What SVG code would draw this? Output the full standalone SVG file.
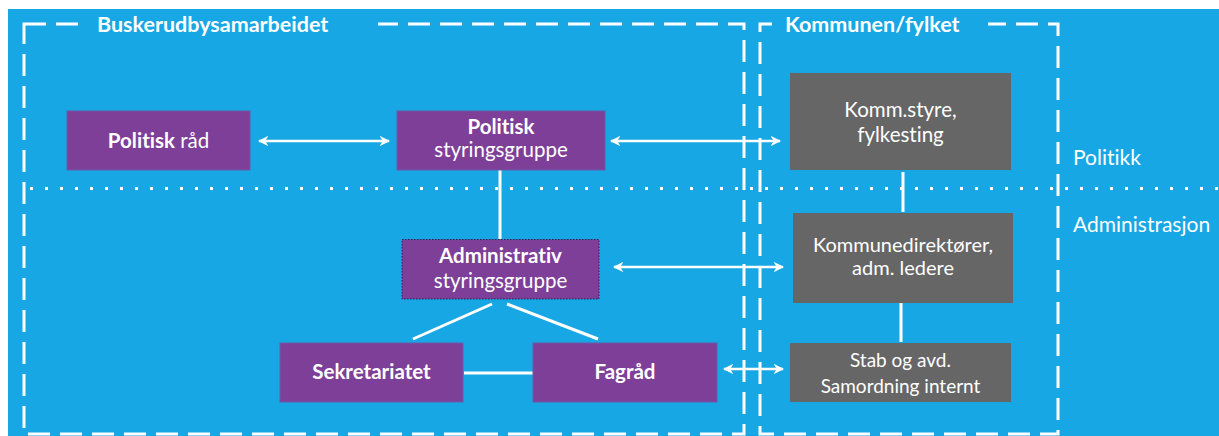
<svg xmlns="http://www.w3.org/2000/svg" width="1219" height="436" viewBox="0 0 1219 436">
  <defs>
    <marker id="ah" viewBox="0 0 10 10" refX="9" refY="5" markerWidth="4.2" markerHeight="4.2" orient="auto-start-reverse" markerUnits="strokeWidth">
      <path d="M0,0 L10,5 L0,10 L3,5 Z" fill="#ffffff"/>
    </marker>
    <style>
      .bg { fill: #17a7e4; }
      .frame { fill: none; stroke: #ffffff; stroke-width: 3; stroke-dasharray: 22 10; }
      .dots { fill: none; stroke: #ffffff; stroke-width: 3; stroke-dasharray: 3 12; }
      .purple { fill: #7e3f98; stroke: #6a5aa8; stroke-width: 1; }
      .admin { fill: #7e3f98; stroke: #2e2350; stroke-width: 1; stroke-dasharray: 1.5 1.5; }
      .gray { fill: #666666; }
      .line { fill: none; stroke: #ffffff; stroke-width: 3; }
      .arrow { fill: none; stroke: #ffffff; stroke-width: 2.5; marker-start: url(#ah); marker-end: url(#ah); }
      text { font-family: Lato, "Open Sans", "Liberation Sans", sans-serif; fill: #ffffff; font-variant-ligatures: none; }
      .t { font-size: 20.5px; text-anchor: middle; }
      .k { font-size: 20px; text-anchor: middle; }
      .b { font-weight: bold; }
      .title { font-size: 21.5px; font-weight: bold; }
      .side { font-size: 21px; }
      .small { font-size: 19px; text-anchor: middle; }
    </style>
  </defs>

  <rect class="bg" x="8" y="9" width="1211" height="427"/>

  <g id="frames">
    <rect class="frame" x="24" y="24" width="720" height="410"/>
    <rect class="bg" x="82" y="14" width="296" height="22"/>
    <text class="title" x="97" y="32">Buskerudbysamarbeidet</text>
    <rect class="frame" x="760" y="24" width="298" height="410"/>
    <rect class="bg" x="772" y="14" width="216" height="22"/>
    <text class="title" x="785" y="32">Kommunen/fylket</text>
  </g>

  <line class="dots" x1="30" y1="188.5" x2="1219" y2="188.5"/>
  <g id="labels">
    <text class="side" x="1073" y="165">Politikk</text>
    <text class="side" x="1073" y="232">Administrasjon</text>
  </g>

  <g id="connectors">
    <line class="arrow" x1="259" y1="141" x2="389" y2="141"/>
    <line class="arrow" x1="611" y1="141" x2="780" y2="141"/>
    <line class="line" x1="500" y1="170" x2="500" y2="239"/>
    <line class="line" x1="903" y1="172" x2="903" y2="212"/>
    <line class="arrow" x1="614" y1="267" x2="783" y2="267"/>
    <line class="line" x1="901" y1="303" x2="901" y2="342"/>
    <line class="line" x1="492" y1="304" x2="413" y2="339"/>
    <line class="line" x1="507" y1="304" x2="598" y2="339"/>
    <line class="line" x1="464" y1="373" x2="533" y2="373"/>
    <line class="arrow" x1="724" y1="369" x2="783" y2="369"/>
  </g>

  <g id="politisk-raad">
    <rect class="purple" x="67" y="111" width="183" height="59"/>
    <text class="t" x="158.5" y="148"><tspan class="b">Politisk</tspan> råd</text>
  </g>

  <g id="politisk-styringsgruppe">
    <rect class="purple" x="397" y="111" width="208" height="59"/>
    <text class="t b" x="501" y="134">Politisk</text>
    <text class="t" x="501" y="157">styringsgruppe</text>
  </g>

  <g id="komm-styre">
    <rect class="gray" x="790" y="73" width="221" height="97"/>
    <text class="t" x="900.5" y="117">Komm.styre,</text>
    <text class="t" x="900.5" y="142">fylkesting</text>
  </g>

  <g id="administrativ-styringsgruppe">
    <rect class="admin" x="402" y="239.5" width="197" height="59.5"/>
    <text class="t b" x="500.5" y="263">Administrativ</text>
    <text class="t" x="500.5" y="288">styringsgruppe</text>
  </g>

  <g id="kommunedirektorer">
    <rect class="gray" x="793" y="213" width="220" height="90"/>
    <text class="k" x="903" y="252">Kommunedirektører,</text>
    <text class="k" x="903" y="275">adm. ledere</text>
  </g>

  <g id="sekretariatet">
    <rect class="purple" x="280" y="343" width="183" height="59"/>
    <text class="t b" x="371.5" y="379">Sekretariatet</text>
  </g>

  <g id="fagraad">
    <rect class="purple" x="533" y="343" width="184" height="59"/>
    <text class="t b" x="625" y="379">Fagråd</text>
  </g>

  <g id="stab">
    <rect class="gray" x="790" y="343" width="221" height="59"/>
    <text class="small" x="900.5" y="367">Stab og avd.</text>
    <text class="small" x="900.5" y="393">Samordning internt</text>
  </g>
</svg>
